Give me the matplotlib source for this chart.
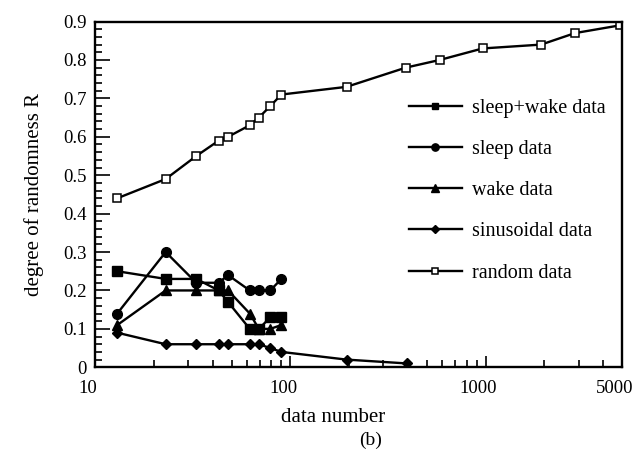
import matplotlib
matplotlib.use("Agg")
import matplotlib.pyplot as plt
import matplotlib.transforms as mtransforms
from matplotlib.ticker import FixedLocator, MultipleLocator, NullFormatter

plt.rcParams["font.family"] = ["Liberation Serif", "DejaVu Serif"]

# data numbers (window lengths) used for each record
n_sub = [13, 23, 33, 43, 48, 62, 69, 79, 90]
n_sin = [13, 23, 33, 43, 48, 62, 69, 79, 90, 194, 395]
n_rand = [13, 23, 33, 43, 48, 62, 69, 79, 90, 194, 390, 582, 966, 1923, 2870, 4860]

# degree of randomness R
r_sleep_wake = [0.25, 0.23, 0.23, 0.20, 0.17, 0.10, 0.10, 0.13, 0.13]
r_sleep = [0.14, 0.30, 0.22, 0.22, 0.24, 0.20, 0.20, 0.20, 0.23]
r_wake = [0.11, 0.20, 0.20, 0.20, 0.20, 0.14, 0.10, 0.10, 0.11]
r_sin = [0.09, 0.06, 0.06, 0.06, 0.06, 0.06, 0.06, 0.05, 0.04, 0.02, 0.01]
r_rand = [0.44, 0.49, 0.55, 0.59, 0.60, 0.63, 0.65, 0.68, 0.71, 0.73,
          0.78, 0.80, 0.83, 0.84, 0.87, 0.89]

x_ticks = [10, 100, 1000, 5000]
x_ticklabels = ["10", "100", "1000", "5000"]
y_ticks = [0, 0.1, 0.2, 0.3, 0.4, 0.5, 0.6, 0.7, 0.8, 0.9]
y_ticklabels = ["0", "0.1", "0.2", "0.3", "0.4", "0.5", "0.6", "0.7", "0.8", "0.9"]

fig = plt.figure(figsize=(6.42, 4.49), dpi=100)
ax = fig.add_axes([0.148, 0.182, 0.821, 0.770])

lw = 1.7
ax.plot(n_sub, r_sleep_wake, "-s", color="black", lw=lw, ms=6.5, label="sleep+wake data")
ax.plot(n_sub, r_sleep, "-o", color="black", lw=lw, ms=7, label="sleep data")
ax.plot(n_sub, r_wake, "-^", color="black", lw=lw, ms=7, label="wake data")
ax.plot(n_sin, r_sin, "-D", color="black", lw=lw, ms=5, label="sinusoidal data")
ax.plot(n_rand, r_rand, "-s", color="black", lw=lw, ms=6, mfc="white",
        mec="black", mew=1.1, label="random data")

ax.set_xscale("log")
ax.set_xlim(10, 5000)
ax.set_ylim(0, 0.9)

ax.xaxis.set_major_locator(FixedLocator(x_ticks))
ax.set_xticklabels(x_ticklabels)
ax.xaxis.set_minor_locator(FixedLocator(
    [k * 10 for k in range(2, 10)] + [k * 100 for k in range(2, 10)]
    + [k * 1000 for k in range(2, 5)]))
ax.xaxis.set_minor_formatter(NullFormatter())
ax.yaxis.set_major_locator(FixedLocator(y_ticks))
ax.set_yticklabels(y_ticklabels)
ax.yaxis.set_minor_locator(MultipleLocator(0.02))

ax.tick_params(axis="both", which="both", direction="in", top=False, right=False,
               labelsize=13.5, width=1.2)
ax.tick_params(axis="y", which="major", length=11, pad=6)
ax.tick_params(axis="y", which="minor", length=5)
ax.tick_params(axis="x", which="major", length=8, pad=9)
ax.tick_params(axis="x", which="minor", length=5)

# x tick labels sit a little left of their ticks
shift = mtransforms.ScaledTranslation(-7 / 100, 0, fig.dpi_scale_trans)
for lab in ax.get_xticklabels():
    lab.set_transform(lab.get_transform() + shift)

for sp in ax.spines.values():
    sp.set_linewidth(1.7)

ax.set_ylabel("degree of randomness R", fontsize=15, labelpad=14)
fig.text(333 / 642, 1 - 418 / 449, "data number", fontsize=15, ha="center", va="center")
fig.text(371 / 642, 1 - 440 / 449, "(b)", fontsize=14, ha="center", va="center")

ax.legend(loc="upper left", bbox_to_anchor=(0.596, 0.777), frameon=False,
          fontsize=14.5, handlelength=2.6, handletextpad=0.5, labelspacing=1.1,
          markerscale=0.75, borderpad=0, borderaxespad=0)

fig.savefig("out.png", dpi=100)
